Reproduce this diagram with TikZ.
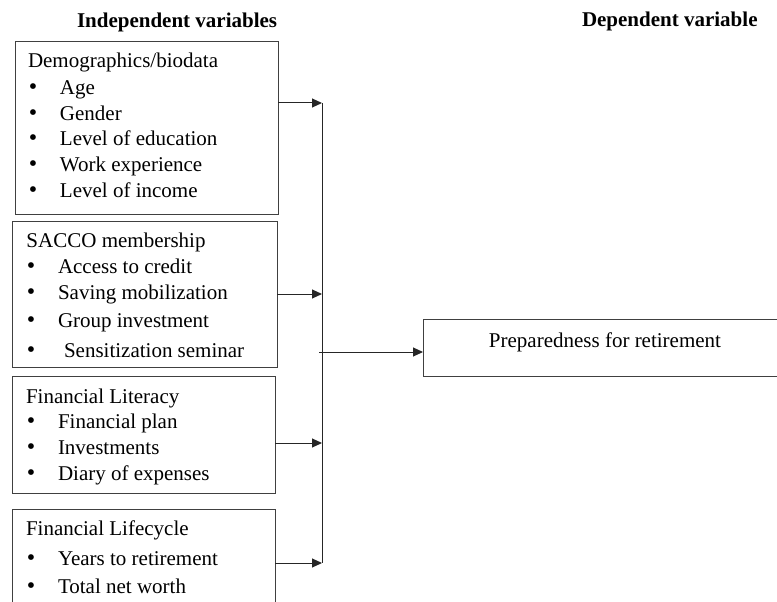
\documentclass[tikz,border=0pt]{standalone}
\usepackage{fontspec}
\setmainfont{Liberation Serif}
\usetikzlibrary{arrows.meta}
\newcommand\bulletmark{\makebox[0pt]{\fontsize{24}{25}\selectfont•}}
\begin{document}
\begin{tikzpicture}[x=1pt,y=-1pt,
  every node/.style={inner sep=0pt,outer sep=0pt},
  frame/.style={draw=black!75,line width=1pt,anchor=north west},
  txt/.style={anchor=base west,font=\fontsize{21}{25}\selectfont,text=black},
  head/.style={anchor=base west,font=\fontsize{21}{25}\selectfont\bfseries,text=black},
  conn/.style={draw=black!85,line width=1pt,-{Triangle[length=10pt,width=9pt]}},
  bus/.style={draw=black!85,line width=1pt}]
\clip (0,0) rectangle (777,602);
\fill[white] (0,0) rectangle (777,602);

% headers
\node[head] (hind) at (77,28) {Independent variables};
\node[head] (hdep) at (582,27) {Dependent variable};

% boxes
\node[frame,minimum width=263pt,minimum height=172pt] (b1) at (15,42) {};
\node[frame,minimum width=265pt,minimum height=146pt] (b2) at (12,221) {};
\node[frame,minimum width=263pt,minimum height=117pt] (b3) at (12,376) {};
\node[frame,minimum width=263pt,minimum height=130pt] (b4) at (12,509) {};
\node[frame,minimum width=380pt,minimum height=57pt] (dep) at (423,319) {};

% box 1 text
\node[txt] (t1) at (28,68) {Demographics/biodata};
\node[txt] (t11) at (33,95) {\bulletmark\hspace{27pt}Age};
\node[txt] (t12) at (33,120.5) {\bulletmark\hspace{27pt}Gender};
\node[txt] (t13) at (33,146) {\bulletmark\hspace{27pt}Level of education};
\node[txt] (t14) at (33,171.5) {\bulletmark\hspace{27pt}Work experience};
\node[txt] (t15) at (33,197) {\bulletmark\hspace{27pt}Level of income};

% box 2 text
\node[txt] (t2) at (26.5,247) {SACCO membership};
\node[txt] (t21) at (31,273) {\bulletmark\hspace{27pt}Access to credit};
\node[txt] (t22) at (31,299) {\bulletmark\hspace{27pt}Saving mobilization};
\node[txt] (t23) at (31,327) {\bulletmark\hspace{27pt}Group investment};
\node[txt] (t24) at (31,357) {\bulletmark\hspace{33pt}Sensitization seminar};

% box 3 text
\node[txt] (t3) at (26,403) {Financial Literacy};
\node[txt] (t31) at (31,428.5) {\bulletmark\hspace{27pt}Financial plan};
\node[txt] (t32) at (31,454.5) {\bulletmark\hspace{27pt}Investments};
\node[txt] (t33) at (31,480.5) {\bulletmark\hspace{27pt}Diary of expenses};

% box 4 text
\node[txt] (t4) at (26,535) {Financial Lifecycle};
\node[txt] (t41) at (31,565) {\bulletmark\hspace{27pt}Years to retirement};
\node[txt] (t42) at (31,593) {\bulletmark\hspace{27pt}Total net worth};

% dependent text
\node[txt,anchor=base] (td) at (605,347) {Preparedness for retirement};

% bus
\coordinate (j1) at (322,103);
\coordinate (j2) at (322,294);
\coordinate (j3) at (322,443);
\coordinate (j4) at (322,563);
\coordinate (jd) at (319,352);
\path[bus] (j1) -- (j4);
\path[conn] (b1.east |- j1) -- (j1);
\path[conn] (b2.east |- j2) -- (j2);
\path[conn] (b3.east |- j3) -- (j3);
\path[conn] (b4.east |- j4) -- (j4);
\path[conn] (jd) -- (dep.west |- jd);
\end{tikzpicture}
\end{document}
